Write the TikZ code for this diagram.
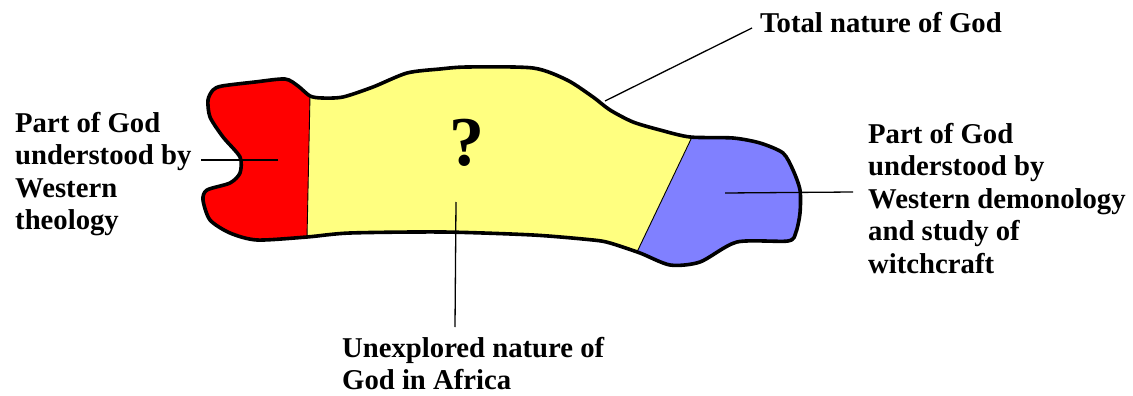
\documentclass[tikz,border=0pt]{standalone}
\usepackage{fontspec}
\setmainfont{Liberation Serif}
\definecolor{godyellow}{RGB}{255,255,128}
\definecolor{godred}{RGB}{255,0,0}
\definecolor{godblue}{RGB}{128,128,255}
\begin{document}
\begin{tikzpicture}[x=1pt,y=-1pt,
  lbl/.style={anchor=base west,inner sep=0pt,align=left,
    font=\fontsize{28.7}{32.5}\selectfont\bfseries},
  leader/.style={line width=1.3pt},
  divider/.style={line width=0.9pt},
  outline/.style={line width=3.6pt,line join=round}]
\useasboundingbox (0,0) rectangle (1133,396);
\def\blob{plot[smooth cycle,tension=0.45] coordinates {
 (208,100) (213,90) (222,86) (255,82) (285,79) (298,86) (310,96) (322,98)
 (343,97) (373,87) (407,73) (440,69) (467,67) (533,68) (567,80) (593,97)
 (610,110) (633,122) (660,130) (690,137) (733,138) (760,143) (783,153)
 (793,170) (800,190) (800,213) (796,232) (788,241) (737,242) (700,262)
 (670,265) (640,253) (610,243) (593,240) (533,235) (443,232) (350,233)
 (307,237) (257,240) (230,233) (210,220) (203,200) (207,190) (230,183)
 (240,173) (240,157) (223,137) (210,117)}}
% yellow body
\fill[godyellow] \blob;
% red part
\begin{scope}
  \clip (0,0) -- (312,0) -- (303.6,396) -- (0,396) -- cycle;
  \fill[godred] \blob;
\end{scope}
% blue part
\begin{scope}
  \clip (758.6,0) -- (1133,0) -- (1133,396) -- (567.5,396) -- cycle;
  \fill[godblue] \blob;
\end{scope}
% dividers
\coordinate (d1a) at (310,96);
\coordinate (d1b) at (307,238);
\coordinate (d2a) at (692,137);
\coordinate (d2b) at (637,252);
\draw[divider] (d1a) -- (d1b);
\draw[divider] (d2a) -- (d2b);
% outline
\draw[outline] \blob;
% question mark
\node[anchor=base,inner sep=0pt,font=\fontsize{70}{70}\selectfont\bfseries] (q) at (467,165) {?};
% labels (base anchor = baseline of the last line)
\node[lbl] (top) at (760,33) {Total nature of God};
\node[lbl] (left) at (15,229.5) {Part of God\\understood by\\Western\\theology};
\node[lbl] (right) at (868,273) {Part of God\\understood by\\Western demonology\\and study of\\witchcraft};
\node[lbl] (bottom) at (342,389.5) {Unexplored nature of\\God in Africa};
% leader ends
\coordinate (ptop) at (605,101);
\coordinate (ptopend) at (752,28);
\coordinate (pl) at (278,160);
\coordinate (plend) at (201,160);
\coordinate (pr) at (725,193);
\coordinate (prend) at (853,192);
\coordinate (pb) at (456,202);
\coordinate (pbend) at (455,327);
\draw[leader] (ptop) -- (ptopend);
\draw[leader] (pl) -- (plend);
\draw[leader] (pr) -- (prend);
\draw[leader] (pb) -- (pbend);
\end{tikzpicture}
\end{document}
